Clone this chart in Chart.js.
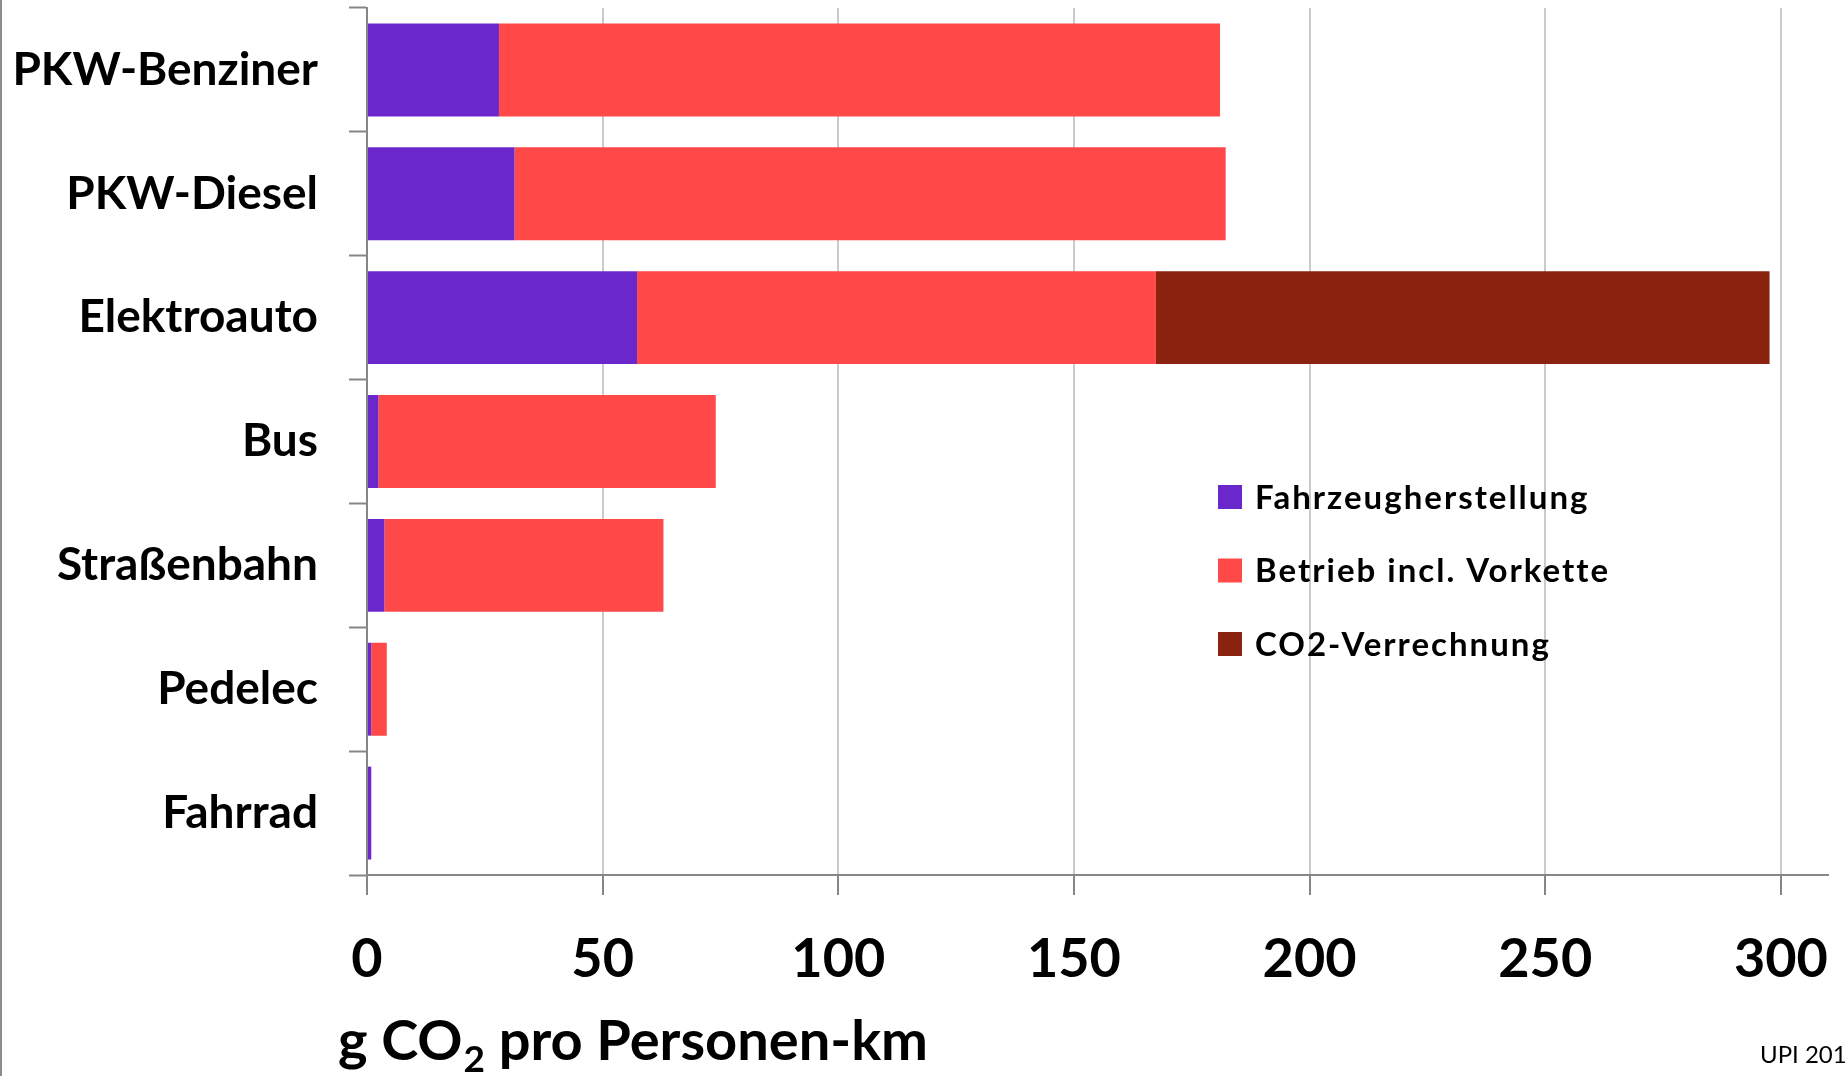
<!DOCTYPE html>
<html>
<head>
<meta charset="utf-8">
<script src="https://cdn.jsdelivr.net/npm/chart.js@4.4.1/dist/chart.umd.min.js"></script>
<style>
  html, body { margin: 0; padding: 0; background: #fff; }
  #wrap { position: relative; width: 1847px; height: 1076px; }
  #edge { position: absolute; left: 0; top: 0; width: 2px; height: 100%; background: #8c8c8c; }
</style>
</head>
<body>
<div id="wrap">
  <canvas id="chart"></canvas>
  <div id="edge"></div>
</div>
<script>
const categories = ['PKW-Benziner', 'PKW-Diesel', 'Elektroauto', 'Bus', 'Straßenbahn', 'Pedelec', 'Fahrrad']
const herstellung = [28, 31.3, 57.3, 2.4, 3.7, 0.9, 0.9]
const betrieb = [153, 150.9, 110.1, 71.6, 59.2, 3.3, 0]
const verrechnung = [0, 0, 130.2, 0, 0, 0, 0]
const seriesNames = ['Fahrzeugherstellung', 'Betrieb incl. Vorkette', 'CO2-Verrechnung']
const xTicks = [0, 50, 100, 150, 200, 250, 300]

const FONT = 'Lato'
const AXIS_GRAY = '#868686'

// Legend inside the plot, drawn by hand so it can sit over the empty area
const legendInside = {
  id: 'legendInside',
  afterDraw(chart) {
    const ctx = chart.ctx
    const left = 1218
    const top = 497
    const rowGap = 73.5
    const box = 24
    const size = 33
    ctx.save()
    ctx.font = `bold ${size}px ${FONT}`
    ctx.letterSpacing = '2px'
    ctx.textBaseline = 'alphabetic'
    ctx.textAlign = 'left'
    chart.data.datasets.forEach((ds, i) => {
      const cy = top + i * rowGap
      ctx.fillStyle = ds.backgroundColor
      ctx.fillRect(left, cy - box / 2, box, box)
      ctx.fillStyle = '#000'
      ctx.fillText(ds.label, left + 37, cy + size * 0.36)
    })
    ctx.restore()
  }
}

// Axis title with subscript 2, plus source note
const bottomTexts = {
  id: 'bottomTexts',
  afterDraw(chart) {
    const ctx = chart.ctx
    ctx.save()
    ctx.fillStyle = '#000'
    ctx.textBaseline = 'alphabetic'
    ctx.textAlign = 'left'
    let x = 338
    const base = 1060
    ctx.font = `bold 56px ${FONT}`
    ctx.fillText('g CO', x, base)
    x += ctx.measureText('g CO').width
    ctx.font = `bold 37px ${FONT}`
    ctx.fillText('2', x + 1, base + 12)
    x += ctx.measureText('2').width + 1
    ctx.font = `bold 56px ${FONT}`
    ctx.fillText(' pro Personen-km', x, base)

    ctx.font = `24px ${FONT}`
    ctx.fillText('UPI 2019', 1760, 1063)
    ctx.restore()
  }
}

const ctx = document.getElementById('chart').getContext('2d')
new Chart(ctx, {
  type: 'bar',
  data: {
    labels: categories,
    datasets: [
      { label: seriesNames[0], data: herstellung, backgroundColor: '#6a28cc' },
      { label: seriesNames[1], data: betrieb, backgroundColor: '#ff4848' },
      { label: seriesNames[2], data: verrechnung, backgroundColor: '#8b2310' }
    ]
  },
  options: {
    indexAxis: 'y',
    responsive: true,
    maintainAspectRatio: false,
    animation: false,
    categoryPercentage: 1,
    barPercentage: 0.75,
    layout: { padding: { top: 8, right: 19, left: 0, bottom: 0 } },
    scales: {
      x: {
        stacked: true,
        min: 0,
        max: 310,
        afterBuildTicks: (scale) => { scale.ticks = xTicks.map(v => ({ value: v })) },
        afterFit: (scale) => {
          scale.height = 201
          scale.paddingLeft = 0
          scale.paddingRight = 0
        },
        grid: {
          color: '#cacaca',
          lineWidth: 2,
          tickColor: AXIS_GRAY,
          tickWidth: 2,
          tickLength: 20
        },
        border: { color: AXIS_GRAY, width: 2 },
        ticks: {
          color: '#000',
          padding: 32,
          maxRotation: 0,
          font: { family: FONT, size: 54, weight: 'bold' }
        }
      },
      y: {
        stacked: true,
        afterFit: (scale) => {
          scale.width = 367
          scale.paddingTop = 0
          scale.paddingBottom = 0
        },
        grid: {
          drawOnChartArea: false,
          tickColor: AXIS_GRAY,
          tickWidth: 2,
          tickLength: 18
        },
        border: { color: AXIS_GRAY, width: 2 },
        ticks: {
          color: '#000',
          padding: 31,
          font: { family: FONT, size: 46, weight: 'bold' }
        }
      }
    },
    plugins: {
      legend: { display: false },
      tooltip: { enabled: false }
    }
  },
  plugins: [legendInside, bottomTexts]
})
</script>
</body>
</html>
